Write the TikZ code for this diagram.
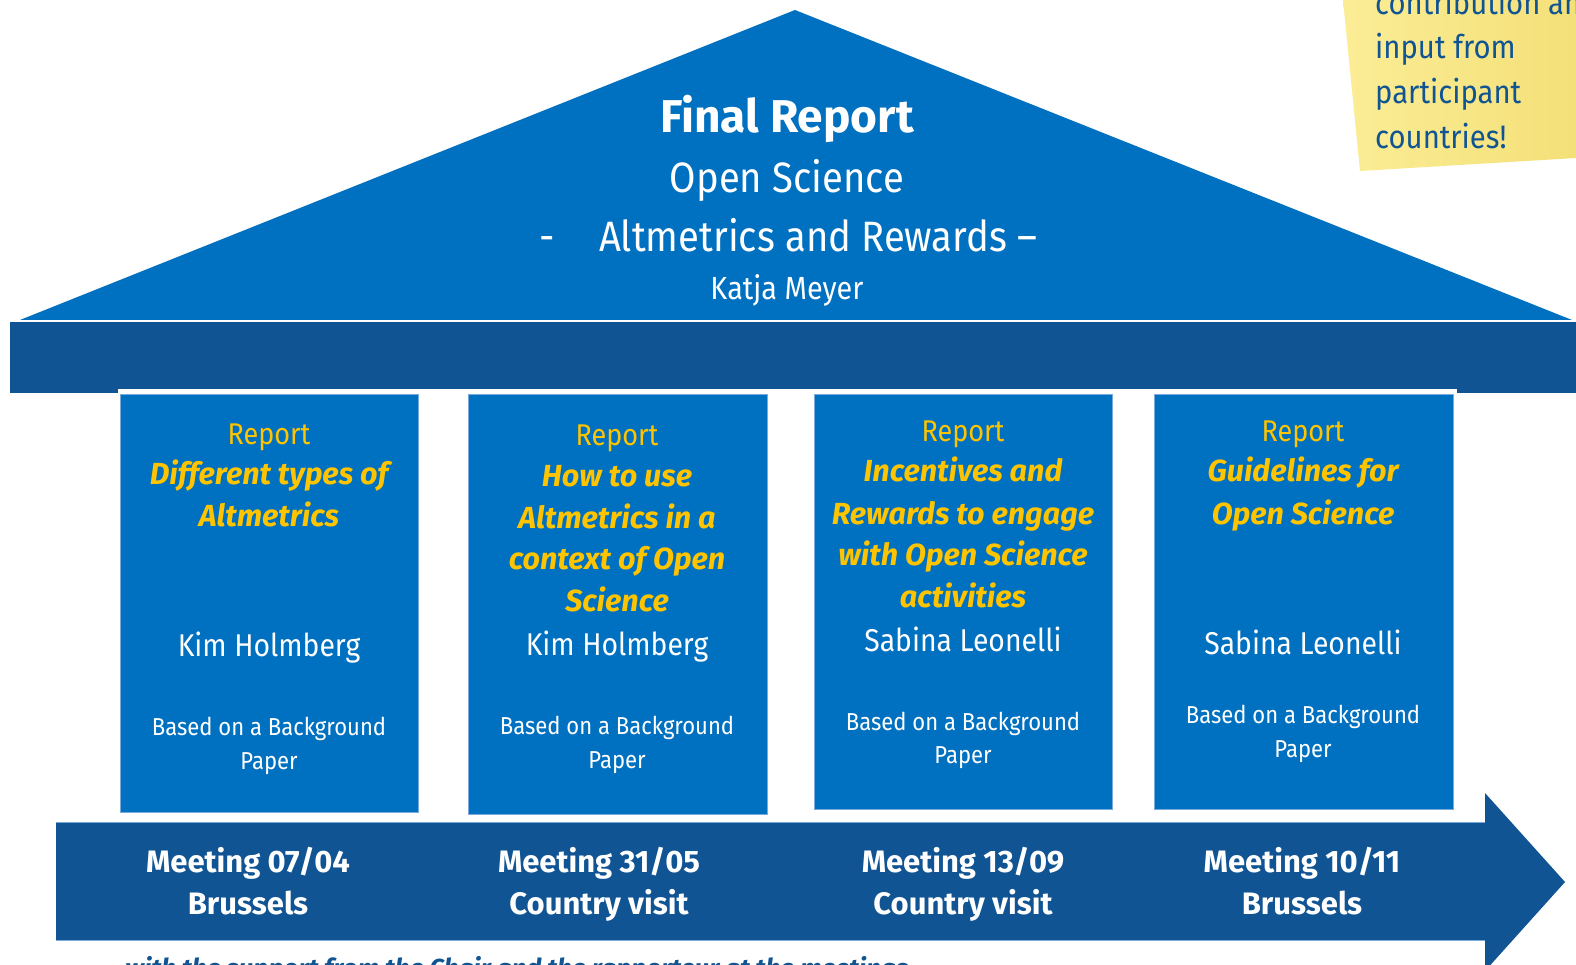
\documentclass[tikz,border=0pt]{standalone}
\usepackage{fontspec}
\setmainfont{Fira Sans}
\newfontfamily\condfont{Fira Sans}[FakeStretch=0.9]
\definecolor{roofblue}{RGB}{0,112,192}
\definecolor{darkband}{RGB}{16,84,147}
\definecolor{rptyellow}{RGB}{255,196,0}
\definecolor{notey}{RGB}{251,237,150}
\definecolor{notey2}{RGB}{244,224,120}
\definecolor{edgeblue}{RGB}{120,170,220}
\begin{document}
\begin{tikzpicture}[x=1pt,y=-1pt,
  basetxt/.style={anchor=base,inner sep=0pt,text=white},
  bigbold/.style={basetxt,font=\fontsize{46}{50}\selectfont\bfseries},
  bigreg/.style={basetxt,font=\condfont\fontsize{42.5}{50}\selectfont},
  author/.style={basetxt,font=\condfont\fontsize{32}{36}\selectfont},
  rpt/.style={basetxt,text=rptyellow,font=\condfont\fontsize{30}{34}\selectfont},
  rpttitle/.style={basetxt,text=rptyellow,font=\fontsize{30.5}{34}\selectfont\bfseries\itshape},
  pname/.style={basetxt,font=\condfont\fontsize{31.5}{36}\selectfont},
  based/.style={basetxt,font=\condfont\fontsize{24.5}{30}\selectfont},
  meet/.style={basetxt,font=\fontsize{31}{36}\selectfont\bfseries},
  notetxt/.style={anchor=base west,inner sep=0pt,text=darkband,font=\condfont\fontsize{32.5}{40}\selectfont},
  pillarbox/.style={draw=edgeblue,line width=1pt,fill=roofblue,inner sep=0pt,rectangle}]
\useasboundingbox (0,0) rectangle (1576,965);
\fill[white] (0,0) rectangle (1576,965);
% roof
\fill[roofblue] (20,320) -- (795,10) -- (1572,320) -- cycle;
\node[bigbold] (title) at (787,133) {Final Report};
\node[bigreg] (sub1) at (787,193) {Open Science};
\node[bigreg] (dash) at (547,252) {-};
\node[bigreg] (sub2) at (818,252) {Altmetrics and Rewards –};
\node[author] (auth) at (787,300) {Katja Meyer};
% band
\fill[darkband] (10,322) rectangle (1576,393);
\fill[white] (118,389) rectangle (1457,393);
% pillars
\node[pillarbox,minimum width=298pt,minimum height=418pt] (p1) at (269,603) {};
\node[pillarbox,minimum width=299pt,minimum height=420pt] (p2) at (617.5,604) {};
\node[pillarbox,minimum width=298pt,minimum height=415pt] (p3) at (963,601.5) {};
\node[pillarbox,minimum width=299pt,minimum height=415pt] (p4) at (1303.5,601.5) {};
% pillar 1
\node[rpt] (r1) at (269,444) {Report};
\node[rpttitle] (t1a) at (269,484) {Different types of};
\node[rpttitle] (t1b) at (269,526) {Altmetrics};
\node[pname] (n1) at (269,656) {Kim Holmberg};
\node[based] (b1a) at (269,735) {Based on a Background};
\node[based] (b1b) at (269,769) {Paper};
% pillar 2
\node[rpt] (r2) at (617,445) {Report};
\node[rpttitle] (t2a) at (617,486) {How to use};
\node[rpttitle] (t2b) at (617,528) {Altmetrics in a};
\node[rpttitle] (t2c) at (617,569) {context of Open};
\node[rpttitle] (t2d) at (617,611) {Science};
\node[pname] (n2) at (617,655) {Kim Holmberg};
\node[based] (b2a) at (617,734) {Based on a Background};
\node[based] (b2b) at (617,768) {Paper};
% pillar 3
\node[rpt] (r3) at (963,441) {Report};
\node[rpttitle] (t3a) at (963,481) {Incentives and};
\node[rpttitle] (t3b) at (963,524) {Rewards to engage};
\node[rpttitle] (t3c) at (963,565) {with Open Science};
\node[rpttitle] (t3d) at (963,607) {activities};
\node[pname] (n3) at (963,651) {Sabina Leonelli};
\node[based] (b3a) at (963,730) {Based on a Background};
\node[based] (b3b) at (963,763) {Paper};
% pillar 4
\node[rpt] (r4) at (1303,441) {Report};
\node[rpttitle] (t4a) at (1303,481) {Guidelines for};
\node[rpttitle] (t4b) at (1303,524) {Open Science};
\node[pname] (n4) at (1303,654) {Sabina Leonelli};
\node[based] (b4a) at (1303,723) {Based on a Background};
\node[based] (b4b) at (1303,757) {Paper};
% timeline arrow
\fill[darkband] (56,822) -- (1485,822) -- (1485,793) -- (1565,882) -- (1485,971) -- (1485,940) -- (56,940) -- cycle;
\draw[edgeblue,line width=1pt] (56,822.5) -- (1485,822.5);
\draw[edgeblue,line width=1pt] (56,940) -- (1485,940);
\node[meet] (m1) at (248,872) {Meeting 07/04};
\node[meet] (m1b) at (248,914) {Brussels};
\node[meet] (m2) at (599,872) {Meeting 31/05};
\node[meet] (m2b) at (599,914) {Country visit};
\node[meet] (m3) at (963,872) {Meeting 13/09};
\node[meet] (m3b) at (963,914) {Country visit};
\node[meet] (m4) at (1302,872) {Meeting 10/11};
\node[meet] (m4b) at (1302,914) {Brussels};
% clipped parts
\begin{scope}
\clip (0,0) rectangle (1576,965);
\shade[left color=notey,right color=notey2] (1343,0) -- (1576,0) -- (1576,158) -- (1360,171) -- cycle;
\node[notetxt] (nt0) at (1375,15) {contribution and};
\node[notetxt] (nt1) at (1375,59) {input from};
\node[notetxt] (nt2) at (1375,104) {participant};
\node[notetxt] (nt3) at (1375,149) {countries!};
\node[anchor=base west,inner sep=0pt,text=darkband,font=\fontsize{26}{30}\selectfont\bfseries\itshape] (foot) at (125,977) {with the support from the Chair and the rapporteur at the meetings};
\end{scope}
\end{tikzpicture}
\end{document}
